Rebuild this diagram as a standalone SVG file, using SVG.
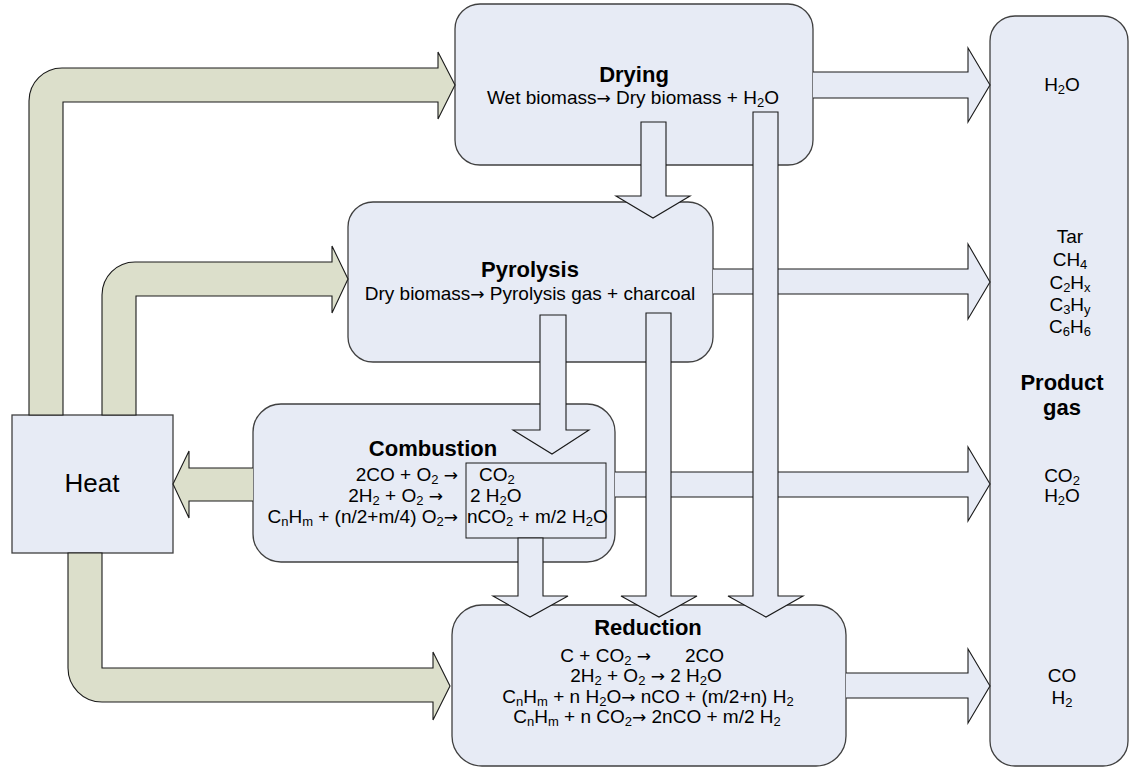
<svg xmlns="http://www.w3.org/2000/svg" width="1130" height="769" viewBox="0 0 1130 769">
<style>
.box{fill:#e7ebf5;stroke:#404040;stroke-width:1.3}
.ga{fill:#dcdfcb;stroke:#1a1a1a;stroke-width:1.1}
.ba{fill:#e7ebf5;stroke:#1a1a1a;stroke-width:1.1}
.t{font-family:"Liberation Sans",Arial,sans-serif;font-size:19px;fill:#000}
.b{font-family:"Liberation Sans",Arial,sans-serif;font-size:22px;font-weight:bold;fill:#000}
.s{font-size:13px}
.a{font-family:"DejaVu Sans",sans-serif;font-size:17px}
.m{text-anchor:middle}
.e{text-anchor:end}
</style>
<rect width="1130" height="769" fill="#fff"/>
<g id="product">
<rect class="box" x="990" y="16" width="138" height="750" rx="25"/>
<text class="t m" x="1062" y="91">H<tspan class="s" dy="3">2</tspan><tspan dy="-3">O</tspan></text>
<text class="t m" x="1070" y="243">Tar</text>
<text class="t m" x="1070" y="266">CH<tspan class="s" dy="3">4</tspan></text>
<text class="t m" x="1070" y="289">C<tspan class="s" dy="3">2</tspan><tspan dy="-3">H</tspan><tspan class="s" dy="3">x</tspan></text>
<text class="t m" x="1070" y="311">C<tspan class="s" dy="3">3</tspan><tspan dy="-3">H</tspan><tspan class="s" dy="3">y</tspan></text>
<text class="t m" x="1070" y="333">C<tspan class="s" dy="3">6</tspan><tspan dy="-3">H</tspan><tspan class="s" dy="3">6</tspan></text>
<text class="b m" x="1062" y="390">Product</text>
<text class="b m" x="1062" y="415">gas</text>
<text class="t m" x="1062" y="482">CO<tspan class="s" dy="3">2</tspan></text>
<text class="t m" x="1062" y="502">H<tspan class="s" dy="3">2</tspan><tspan dy="-3">O</tspan></text>
<text class="t m" x="1062" y="682">CO</text>
<text class="t m" x="1062" y="704">H<tspan class="s" dy="3">2</tspan></text>
</g>
<g id="drying">
<rect class="box" x="455" y="4" width="358" height="161" rx="25"/>
<text class="b m" x="634" y="82">Drying</text>
<text class="t m" x="633" y="104">Wet biomass<tspan class="a">→</tspan> Dry biomass + H<tspan class="s" dy="3">2</tspan><tspan dy="-3">O</tspan></text>
</g>
<g id="pyrolysis">
<rect class="box" x="348" y="202" width="365" height="160" rx="25"/>
<text class="b m" x="530" y="277">Pyrolysis</text>
<text class="t m" x="530" y="300">Dry biomass<tspan class="a">→</tspan> Pyrolysis gas + charcoal</text>
</g>
<g id="combustion">
<rect class="box" x="253" y="404" width="362" height="158" rx="28"/>
<rect x="466" y="463" width="140" height="75" fill="none" stroke="#1a1a1a" stroke-width="1"/>
<text class="b m" x="433" y="456">Combustion</text>
<text class="t e" x="458" y="481">2CO + O<tspan class="s" dy="3">2</tspan><tspan dy="-3"> </tspan><tspan class="a">→</tspan></text>
<text class="t" x="479" y="481">CO<tspan class="s" dy="3">2</tspan></text>
<text class="t e" x="443" y="502">2H<tspan class="s" dy="3">2</tspan><tspan dy="-3"> + O</tspan><tspan class="s" dy="3">2</tspan><tspan dy="-3"> </tspan><tspan class="a">→</tspan></text>
<text class="t" x="470" y="502">2 H<tspan class="s" dy="3">2</tspan><tspan dy="-3">O</tspan></text>
<text class="t e" x="458" y="523">C<tspan class="s" dy="3">n</tspan><tspan dy="-3">H</tspan><tspan class="s" dy="3">m</tspan><tspan dy="-3"> + (n/2+m/4) O</tspan><tspan class="s" dy="3">2</tspan><tspan class="a" dy="-3">→</tspan></text>
<text class="t" x="467" y="523">nCO<tspan class="s" dy="3">2</tspan><tspan dy="-3"> + m/2 H</tspan><tspan class="s" dy="3">2</tspan><tspan dy="-3">O</tspan></text>
</g>
<g id="reduction">
<rect class="box" x="452" y="605" width="394" height="161" rx="30"/>
<text class="b m" x="648" y="635">Reduction</text>
<text class="t e" x="651" y="662">C + CO<tspan class="s" dy="3">2</tspan><tspan dy="-3"> </tspan><tspan class="a">→</tspan></text>
<text class="t" x="685" y="662">2CO</text>
<text class="t m" x="646" y="682">2H<tspan class="s" dy="3">2</tspan><tspan dy="-3"> + O</tspan><tspan class="s" dy="3">2</tspan><tspan dy="-3"> </tspan><tspan class="a">→</tspan> 2 H<tspan class="s" dy="3">2</tspan><tspan dy="-3">O</tspan></text>
<text class="t m" x="648" y="703">C<tspan class="s" dy="3">n</tspan><tspan dy="-3">H</tspan><tspan class="s" dy="3">m</tspan><tspan dy="-3"> + n H</tspan><tspan class="s" dy="3">2</tspan><tspan dy="-3">O</tspan><tspan class="a">→</tspan> nCO + (m/2+n) H<tspan class="s" dy="3">2</tspan></text>
<text class="t m" x="647" y="723">C<tspan class="s" dy="3">n</tspan><tspan dy="-3">H</tspan><tspan class="s" dy="3">m</tspan><tspan dy="-3"> + n CO</tspan><tspan class="s" dy="3">2</tspan><tspan class="a" dy="-3">→</tspan> 2nCO + m/2 H<tspan class="s" dy="3">2</tspan></text>
</g>
<g id="heat">
<rect x="12" y="415" width="161" height="138" fill="#e7ebf5" stroke="#404040" stroke-width="1.3"/>
<text class="t m" x="92" y="492" style="font-size:26px">Heat</text>
</g>
<g id="connectors">
<path class="ga" d="M29,415 V101 A33,33 0 0 1 62,68 H438 V52 L455,85 L438,119 V102 H63 V415 Z"/>
<path class="ga" d="M102,415 V295 A33,33 0 0 1 135,262 H332 V246 L348,279 L332,313 V296 H136 V415 Z"/>
<path class="ga" d="M253,468 H189 V451 L173,484 L189,518 V501 H253"/>
<path class="ga" d="M68,553 V668 A34,34 0 0 0 102,702 H433 V720 L450,686 L433,652 V668 H102 V553 Z"/>
<path class="ba" d="M813,72 H968 V48 L990,85 L968,122 V98 H813"/>
<path class="ba" d="M713,269 H968 V244 L990,282 L968,319 V294 H713"/>
<path class="ba" d="M615,472 H968 V447 L990,484 L968,521 V497 H615"/>
<path class="ba" d="M846,673 H968 V649 L990,686 L968,723 V698 H846"/>
<path class="ba" d="M641,122 H666 V196 H690 L653,218 L616,196 H641 Z"/>
<path class="ba" d="M540,315 H566 V430 H589 L552,454 L513,430 H540 Z"/>
<path class="ba" d="M646,313 H671 V596 H697 L659,617 L621,596 H646 Z"/>
<path class="ba" d="M753,112 H778 V596 H803 L766,617 L728,596 H753 Z"/>
<path class="ba" d="M518,538 H543 V596 H568 L530,617 L493,596 H518 Z"/>
</g>
</svg>
